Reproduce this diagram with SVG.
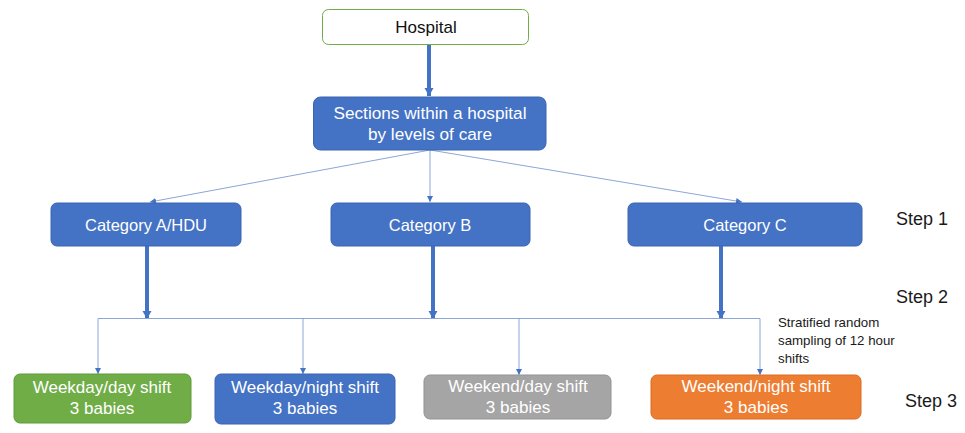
<svg xmlns="http://www.w3.org/2000/svg" width="965" height="433" viewBox="0 0 965 433">
  <defs>
    <marker id="thin-head" markerUnits="userSpaceOnUse" markerWidth="7" markerHeight="6" refX="6" refY="3" orient="auto">
      <path d="M0,0 L6,3 L0,6 Z" fill="#4472C4"/>
    </marker>
    <marker id="thick-head" markerUnits="userSpaceOnUse" markerWidth="10" markerHeight="10" refX="8" refY="5" orient="auto">
      <path d="M0,0.5 L8,5 L0,9.5 Z" fill="#4472C4"/>
    </marker>
  </defs>
  <style>
    .lbl { font-family: "Liberation Sans", Arial, sans-serif; fill: #ffffff; text-anchor: middle; }
    .side { font-family: "Liberation Sans", Arial, sans-serif; fill: #1a1a1a; }
    .thin { stroke: #8BA6D6; stroke-width: 1; fill: none; }
    .thin-arrow { stroke: #8BA6D6; stroke-width: 1; fill: none; marker-end: url(#thin-head); }
    .thick { stroke: #4472C4; stroke-width: 4; fill: none; marker-end: url(#thick-head); }
    .blue { fill: #4472C4; stroke: #3A64B0; stroke-width: 1; }
    .green { fill: #70AD47; stroke: #5F9A3A; stroke-width: 1; }
    .grey { fill: #A5A5A5; stroke: #939393; stroke-width: 1; }
    .orange { fill: #ED7D31; stroke: #D96C22; stroke-width: 1; }
  </style>

  <rect width="965" height="433" fill="#ffffff"/>

  <!-- connectors -->
  <g id="connectors">
    <line class="thick" x1="429" y1="44" x2="429" y2="96"/>
    <line class="thin-arrow" x1="430" y1="150" x2="150" y2="202"/>
    <line class="thin-arrow" x1="430" y1="150" x2="430" y2="202"/>
    <line class="thin-arrow" x1="430" y1="150" x2="742" y2="202"/>
    <line class="thick" x1="147" y1="246" x2="147" y2="319"/>
    <line class="thick" x1="433" y1="246" x2="433" y2="319"/>
    <line class="thick" x1="721" y1="246" x2="721" y2="319"/>
    <line class="thin" x1="98" y1="318.5" x2="760" y2="318.5"/>
    <line class="thin-arrow" x1="98" y1="318.5" x2="98" y2="374"/>
    <line class="thin-arrow" x1="303" y1="318.5" x2="303" y2="374"/>
    <line class="thin-arrow" x1="519" y1="318.5" x2="519" y2="375"/>
    <line class="thin-arrow" x1="760" y1="318.5" x2="760" y2="375"/>
  </g>

  <g id="hospital">
    <rect x="322.5" y="9.5" width="206" height="35" rx="6" fill="#ffffff" stroke="#70AD47" stroke-width="1"/>
    <text x="426" y="33" font-size="17" style="font-family:'Liberation Sans',Arial,sans-serif;fill:#111;text-anchor:middle">Hospital</text>
  </g>

  <g id="sections">
    <rect class="blue" x="313.5" y="97" width="232.5" height="53" rx="7"/>
    <text class="lbl" x="430" y="119" font-size="17.2">Sections within a hospital</text>
    <text class="lbl" x="430" y="140" font-size="17.2">by levels of care</text>
  </g>

  <g id="category-a">
    <rect class="blue" x="51" y="203" width="190" height="43" rx="6"/>
    <text class="lbl" x="146" y="231" font-size="16.5">Category A/HDU</text>
  </g>

  <g id="category-b">
    <rect class="blue" x="331" y="203" width="199" height="43" rx="6"/>
    <text class="lbl" x="430" y="231" font-size="16.5">Category B</text>
  </g>

  <g id="category-c">
    <rect class="blue" x="628" y="203" width="234" height="43" rx="6"/>
    <text class="lbl" x="745" y="231" font-size="16.5">Category C</text>
  </g>

  <g id="weekday-day">
    <rect class="green" x="14" y="374" width="177" height="49" rx="6"/>
    <text class="lbl" x="102" y="393" font-size="17">Weekday/day shift</text>
    <text class="lbl" x="102" y="414" font-size="17">3 babies</text>
  </g>

  <g id="weekday-night">
    <rect class="blue" x="215" y="374" width="180" height="50" rx="6"/>
    <text class="lbl" x="305" y="393" font-size="17">Weekday/night shift</text>
    <text class="lbl" x="305" y="414" font-size="17">3 babies</text>
  </g>

  <g id="weekend-day">
    <rect class="grey" x="424" y="375" width="187" height="44" rx="6"/>
    <text class="lbl" x="518" y="392" font-size="17">Weekend/day shift</text>
    <text class="lbl" x="518" y="413" font-size="17">3 babies</text>
  </g>

  <g id="weekend-night">
    <rect class="orange" x="651" y="375" width="210" height="44" rx="6"/>
    <text class="lbl" x="756" y="392" font-size="17">Weekend/night shift</text>
    <text class="lbl" x="756" y="413" font-size="17">3 babies</text>
  </g>

  <g id="annotations">
    <text class="side" x="896" y="225" font-size="18">Step 1</text>
    <text class="side" x="896" y="303" font-size="18">Step 2</text>
    <text class="side" x="905" y="407" font-size="18">Step 3</text>
    <text class="side" x="778" y="327" font-size="13.3">Stratified random</text>
    <text class="side" x="778" y="345" font-size="13.3">sampling of 12 hour</text>
    <text class="side" x="778" y="363" font-size="13.3">shifts</text>
  </g>
</svg>
